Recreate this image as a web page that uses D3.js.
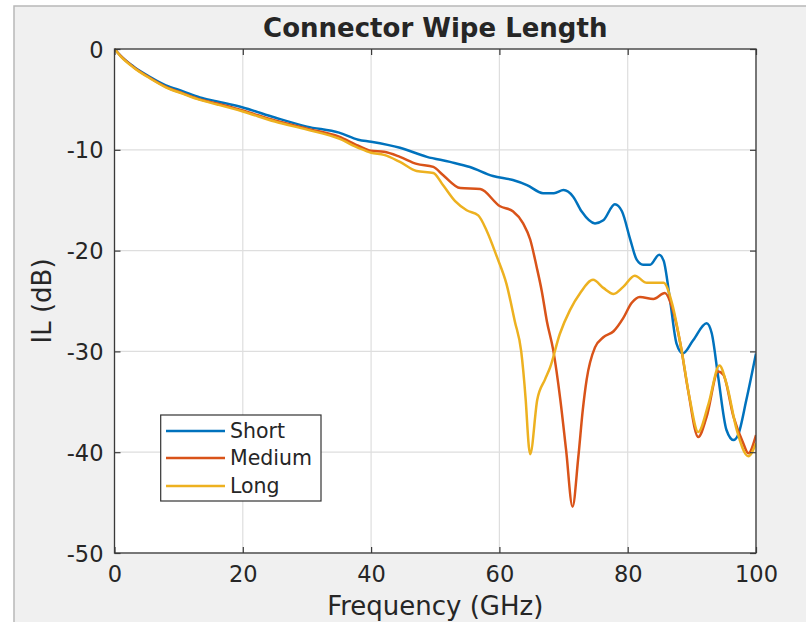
<!DOCTYPE html>
<html>
<head>
<meta charset="utf-8">
<script src="https://cdn.jsdelivr.net/npm/d3@7"></script>
<style>
  html, body { margin: 0; padding: 0; background: #ffffff; }
  svg { display: block; }
  text { font-family: "DejaVu Sans", sans-serif; fill: #262626; }
</style>
</head>
<body>
<svg id="chart" width="806" height="622"></svg>
<script>
// ---- data ----
const title = "Connector Wipe Length";
const xLabel = "Frequency (GHz)";
const yLabel = "IL (dB)";
const xTicks = [0, 20, 40, 60, 80, 100];
const yTicks = [0, -10, -20, -30, -40, -50];
const seriesNames = ["Short", "Medium", "Long"];
const seriesColors = ["#0072BD", "#D95319", "#EDB120"];

const shortFreq = [0,1,3,5.5,8,10.7,13.3,16,20,25,30,35,38,40,44.5,48.7,52.3,55.4,59,62.1,64.3,66.8,68.5,70,71.5,72.8,74.9,76.2,78,79.1,80.4,81.4,82.4,83.5,84.9,85.6,86.6,87.6,88.6,90.2,92.3,93.1,94.1,95.4,96.5,97.2,98.5,100];
const shortIL = [0,-0.7,-1.75,-2.75,-3.6,-4.2,-4.8,-5.2,-5.8,-6.8,-7.7,-8.3,-9.0,-9.2,-9.8,-10.7,-11.2,-11.7,-12.6,-13.0,-13.5,-14.3,-14.3,-14.0,-14.65,-16.1,-17.3,-17.0,-15.4,-16.1,-18.9,-20.9,-21.4,-21.4,-20.4,-21.0,-24.9,-29.2,-30.2,-28.9,-27.2,-28.2,-32.5,-37.8,-38.8,-38.3,-34.8,-30.2];

const mediumFreq = [0,1,3,5.5,8,10.7,13.3,16,20,25,30,35,38,40,42,44.5,47.1,49.7,51.2,53.9,57,60.1,62.1,63.7,64.8,65.8,66.6,67.4,68.4,69.5,70.4,71.4,72.3,73.0,73.6,74.9,76.2,77.8,79.3,80.6,81.9,84.0,85.8,86.9,88.2,89.4,91.0,92.3,94.1,94.9,96.5,98.0,98.8,100];
const mediumIL = [0,-0.7,-1.8,-2.85,-3.75,-4.4,-5.0,-5.4,-6.1,-7.1,-7.9,-8.7,-9.6,-10.1,-10.2,-10.7,-11.4,-11.7,-12.5,-13.8,-13.9,-15.6,-16.1,-17.3,-18.9,-21.6,-24.0,-27.0,-29.9,-34.8,-39.8,-45.4,-40.5,-35.8,-32.8,-29.6,-28.6,-28.0,-26.7,-25.2,-24.6,-24.8,-24.2,-25.6,-29.2,-33.8,-38.5,-36.5,-32.0,-32.3,-36.5,-39.1,-40.1,-38.3];

const longFreq = [0,1,3,5.5,8,10.7,13.3,16,20,25,30,35,38,40,42,44.5,47.1,49.7,51.2,53.1,54.9,56.7,58,59.6,61.1,62.4,63.4,64.1,64.6,64.8,65.9,67.1,67.9,69.4,71,72.6,74.6,76.2,77.8,79.3,81.1,83,85.6,86.9,88.4,89.7,91,92.6,94.3,95.4,97,98.8,100];
const longIL = [0,-0.75,-1.85,-2.9,-3.8,-4.45,-5.05,-5.5,-6.2,-7.2,-8.0,-8.9,-9.8,-10.3,-10.5,-11.2,-12.1,-12.3,-13.5,-15.1,-16.0,-16.5,-18.0,-20.6,-23.3,-27.0,-30.0,-34.8,-39.5,-40.2,-34.8,-32.8,-31.6,-28.3,-25.9,-24.2,-22.9,-23.7,-24.3,-23.6,-22.5,-23.2,-23.2,-25.2,-29.9,-34.8,-38.0,-35.2,-31.4,-33.2,-37.8,-40.4,-39.1];

const seriesFreq = [shortFreq, mediumFreq, longFreq];
const seriesIL = [shortIL, mediumIL, longIL];

// ---- layout ----
const W = 806, H = 622;
const plot = { left: 114.5, right: 756, top: 49, bottom: 553 };

const svg = d3.select("#chart");

// figure background
svg.append("rect").attr("x", 0).attr("y", 0).attr("width", W).attr("height", H).attr("fill", "#ffffff");
svg.append("rect").attr("x", 14).attr("y", 6).attr("width", W - 14 + 2).attr("height", H).attr("fill", "#f0f0f0")
   .attr("stroke", "#b8b8b8").attr("stroke-width", 1.5);

const x = d3.scaleLinear().domain([0, 100]).range([plot.left, plot.right]);
const y = d3.scaleLinear().domain([-50, 0]).range([plot.bottom, plot.top]);

// axes background
svg.append("rect").attr("x", plot.left).attr("y", plot.top)
   .attr("width", plot.right - plot.left).attr("height", plot.bottom - plot.top).attr("fill", "#ffffff");

// grid
const grid = svg.append("g").attr("stroke", "#dedede").attr("stroke-width", 1.2);
xTicks.forEach(t => grid.append("line").attr("x1", x(t)).attr("x2", x(t)).attr("y1", plot.top).attr("y2", plot.bottom));
yTicks.forEach(t => grid.append("line").attr("x1", plot.left).attr("x2", plot.right).attr("y1", y(t)).attr("y2", y(t)));

// lines
svg.append("clipPath").attr("id", "clip").append("rect")
   .attr("x", plot.left).attr("y", plot.top - 2).attr("width", plot.right - plot.left).attr("height", plot.bottom - plot.top + 2);

const line = d3.line().x(d => x(d[0])).y(d => y(d[1])).curve(d3.curveMonotoneX);
const linesG = svg.append("g").attr("clip-path", "url(#clip)");
seriesNames.forEach((name, i) => {
  const pts = seriesFreq[i].map((f, j) => [f, seriesIL[i][j]]);
  linesG.append("path").datum(pts).attr("d", line)
    .attr("fill", "none").attr("stroke", seriesColors[i]).attr("stroke-width", 2.5)
    .attr("stroke-linejoin", "round");
});

// axes (box with inward ticks on all sides)
const tickLen = 6;
const axisColor = "#3a3a3a";
const xAxisB = d3.axisBottom(x).tickValues(xTicks).tickSizeInner(-tickLen).tickSizeOuter(0).tickPadding(tickLen + 8).tickFormat(d3.format("d"));
const xAxisT = d3.axisTop(x).tickValues(xTicks).tickSizeInner(-tickLen).tickSizeOuter(0).tickFormat("");
const yAxisL = d3.axisLeft(y).tickValues(yTicks).tickSizeInner(-tickLen).tickSizeOuter(0).tickPadding(tickLen + 5).tickFormat(d3.format("d"));
const yAxisR = d3.axisRight(y).tickValues(yTicks).tickSizeInner(-tickLen).tickSizeOuter(0).tickFormat("");

function styleAxis(g) {
  g.select(".domain").remove();
  g.selectAll(".tick line").attr("stroke", axisColor).attr("stroke-width", 1.2);
  g.selectAll(".tick text").attr("fill", "#262626").style("font-size", "22.5px").style("font-family", "'DejaVu Sans', sans-serif");
}
svg.append("g").attr("transform", `translate(0,${plot.bottom})`).call(xAxisB).call(styleAxis)
   .selectAll(".tick text").attr("dy", "0.71em").attr("y", 13);
svg.append("g").attr("transform", `translate(0,${plot.top})`).call(xAxisT).call(styleAxis);
svg.append("g").attr("transform", `translate(${plot.left},0)`).call(yAxisL).call(styleAxis)
   .selectAll(".tick text").attr("x", -11).attr("dy", "0.36em")
   .text(d => String(d));
svg.append("g").attr("transform", `translate(${plot.right},0)`).call(yAxisR).call(styleAxis);

svg.append("rect").attr("x", plot.left).attr("y", plot.top)
   .attr("width", plot.right - plot.left).attr("height", plot.bottom - plot.top)
   .attr("fill", "none").attr("stroke", axisColor).attr("stroke-width", 1.3);

// title & labels
svg.append("text").attr("x", (plot.left + plot.right) / 2).attr("y", 37)
   .attr("text-anchor", "middle").style("font-size", "26px").style("font-weight", "bold").attr("fill", "#000")
   .text(title);
svg.append("text").attr("x", (plot.left + plot.right) / 2).attr("y", 615)
   .attr("text-anchor", "middle").style("font-size", "26px").text(xLabel);
svg.append("text").attr("transform", `translate(51,${(plot.top + plot.bottom) / 2}) rotate(-90)`)
   .attr("text-anchor", "middle").style("font-size", "26px").text(yLabel);

// legend
const leg = { x: 160.7, y: 415, w: 160.3, h: 86 };
const legG = svg.append("g");
legG.append("rect").attr("x", leg.x).attr("y", leg.y).attr("width", leg.w).attr("height", leg.h)
   .attr("fill", "#ffffff").attr("stroke", "#333333").attr("stroke-width", 1.2);
const legRows = [431, 458, 486];
seriesNames.forEach((name, i) => {
  legG.append("line").attr("x1", 166).attr("x2", 225).attr("y1", legRows[i]).attr("y2", legRows[i])
     .attr("stroke", seriesColors[i]).attr("stroke-width", 2.5);
  legG.append("text").attr("x", 230).attr("y", legRows[i]).attr("dy", "0.36em")
     .style("font-size", "20.5px").text(name);
});
</script>
</body>
</html>
